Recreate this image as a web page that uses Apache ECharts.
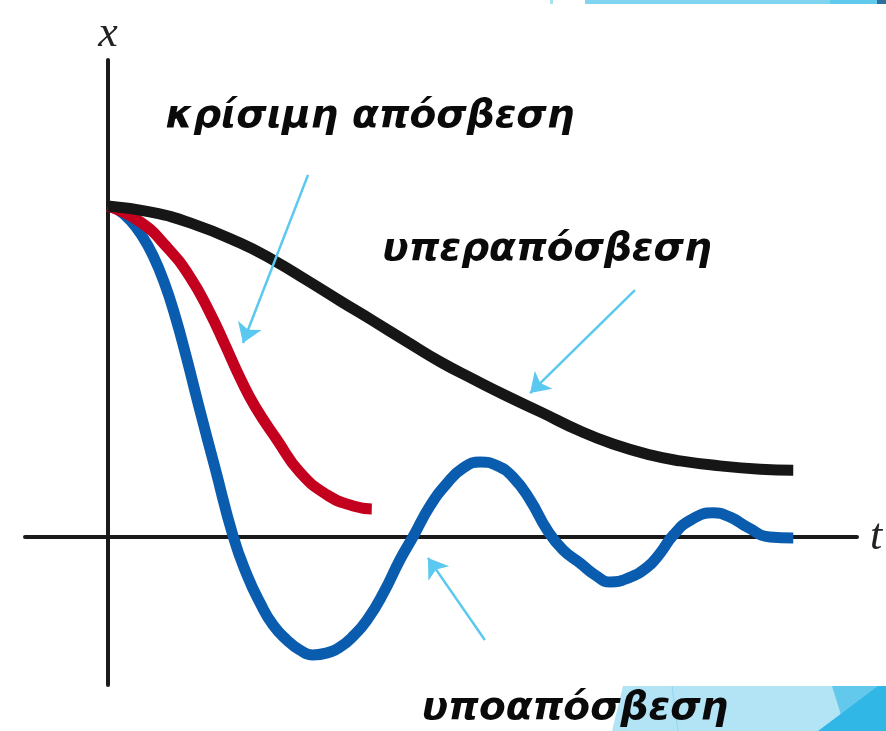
<!DOCTYPE html>
<html>
<head>
<meta charset="utf-8">
<script src="https://cdn.jsdelivr.net/npm/echarts@6/dist/echarts.min.js"></script>
<style>
  html, body { margin: 0; padding: 0; background: #fff; }
  #chart { width: 886px; height: 731px; }
</style>
</head>
<body>
<div id="chart"></div>
<script>
// readings, in chart units (t across, x up; start of curves is x = 1)
const overdampedT = [0, 0.61, 1.2, 1.93, 2.41, 2.9, 3.39, 3.87, 4.37, 4.85, 5.33, 5.82, 6.31, 6.89, 7.37, 7.91, 8.35, 8.93, 9.52, 10]
const overdampedX = [1, 0.982, 0.949, 0.888, 0.837, 0.776, 0.713, 0.653, 0.589, 0.529, 0.477, 0.426, 0.378, 0.32, 0.281, 0.248, 0.23, 0.215, 0.205, 0.202]

const criticalT = [0, 0.47, 0.86, 1.2, 1.49, 1.71, 1.93, 2.15, 2.47, 2.8, 3.2, 3.58, 3.85]
const criticalX = [1, 0.952, 0.876, 0.785, 0.677, 0.58, 0.48, 0.393, 0.293, 0.196, 0.127, 0.094, 0.085]

const underdampedT = [0, 0.15, 0.32, 0.5, 0.66, 0.82, 0.98, 1.14, 1.34, 1.56, 1.83, 2.03, 2.22, 2.41, 2.61, 2.8, 2.99, 3.2, 3.39, 3.58, 3.78, 4.02, 4.26, 4.45, 4.7, 4.95, 5.18, 5.43, 5.68, 5.91, 6.16, 6.41, 6.64, 6.89, 7.11, 7.33, 7.59, 7.87, 8.06, 8.25, 8.5, 8.83, 9.08, 9.33, 9.66, 10]
const underdampedX = [1, 0.988, 0.958, 0.909, 0.849, 0.77, 0.668, 0.547, 0.384, 0.211, 0, -0.115, -0.199, -0.266, -0.311, -0.341, -0.356, -0.35, -0.332, -0.299, -0.251, -0.169, -0.069, 0, 0.094, 0.163, 0.208, 0.227, 0.215, 0.181, 0.112, 0.021, -0.039, -0.079, -0.115, -0.136, -0.124, -0.091, -0.048, 0.006, 0.051, 0.073, 0.06, 0.03, 0, -0.003]

// annotation arrows: [fromT, fromX, toT, toX]
const arrowCritical = [2.92, 1.094, 1.97, 0.586]
const arrowOver = [7.69, 0.746, 6.16, 0.435]
const arrowUnder = [5.5, -0.311, 4.67, -0.063]

const labelCritical = 'κρίσιμη απόσβεση'
const labelOver = 'υπεραπόσβεση'
const labelUnder = 'υποαπόσβεση'

const zip = (ts, xs) => ts.map((t, i) => [t, xs[i]])
const arrow = (a) => ({ coords: [[a[0], a[1]], [a[2], a[3]]] })

const chart = echarts.init(document.getElementById('chart'), null, { renderer: 'canvas' })

const axisFont = {
  color: '#222',
  fontFamily: 'Liberation Serif',
  fontStyle: 'italic',
  fontSize: 44,
}

const labelStyle = {
  fill: '#0a0a0a',
  fontFamily: 'DejaVu Sans',
  fontWeight: 'bold',
  fontStyle: 'italic',
  fontSize: 39,
  textAlign: 'center',
  textVerticalAlign: 'middle',
}

chart.setOption({
  animation: false,
  backgroundColor: '#fff',
  grid: { left: 25, right: 29, top: 60, bottom: 46 },
  xAxis: {
    type: 'value',
    min: -1.21,
    max: 10.93,
    axisLine: { onZero: true, lineStyle: { color: '#1a1a1a', width: 4 } },
    axisTick: { show: false },
    axisLabel: { show: false },
    splitLine: { show: false },
    name: 't',
    nameLocation: 'end',
    nameGap: 13,
    nameTextStyle: axisFont,
  },
  yAxis: {
    type: 'value',
    min: -0.447,
    max: 1.441,
    axisLine: { onZero: true, lineStyle: { color: '#1a1a1a', width: 4 } },
    axisTick: { show: false },
    axisLabel: { show: false },
    splitLine: { show: false },
    name: 'x',
    nameLocation: 'end',
    nameGap: 4,
    nameTextStyle: axisFont,
  },
  series: [
    {
      name: 'underdamped',
      type: 'line',
      data: zip(underdampedT, underdampedX),
      smooth: 0.5,
      showSymbol: false,
      lineStyle: { color: '#0a5cae', width: 11, cap: 'butt' },
      z: 2,
    },
    {
      name: 'critical',
      type: 'line',
      data: zip(criticalT, criticalX),
      smooth: 0.5,
      showSymbol: false,
      lineStyle: { color: '#c4001f', width: 11, cap: 'butt' },
      z: 3,
    },
    {
      name: 'overdamped',
      type: 'line',
      data: zip(overdampedT, overdampedX),
      smooth: 0.5,
      showSymbol: false,
      lineStyle: { color: '#161616', width: 11, cap: 'butt' },
      z: 4,
    },
    {
      type: 'lines',
      coordinateSystem: 'cartesian2d',
      symbol: ['none', 'arrow'],
      symbolSize: 19,
      lineStyle: { color: '#5bc8ef', width: 2.5, opacity: 1, curveness: 0 },
      data: [arrow(arrowCritical), arrow(arrowOver), arrow(arrowUnder)],
      z: 5,
    },
  ],
  graphic: [
    // slide decoration, top edge
    { type: 'rect', shape: { x: 585, y: 0, width: 301, height: 4 }, style: { fill: '#80d4ef' }, silent: true },
    { type: 'rect', shape: { x: 830, y: 0, width: 47, height: 4 }, style: { fill: '#5fcaeb' }, silent: true },
    { type: 'rect', shape: { x: 877, y: 0, width: 9, height: 4 }, style: { fill: '#2e6f9e' }, silent: true },
    { type: 'rect', shape: { x: 550, y: 0, width: 3, height: 4 }, style: { fill: '#a8e0f3' }, silent: true },
    // slide decoration, bottom right
    { type: 'polygon', shape: { points: [[623, 686], [886, 686], [886, 731], [612, 731]] }, style: { fill: '#b3e4f6' }, silent: true },
    { type: 'line', shape: { x1: 672, y1: 686, x2: 678, y2: 731 }, style: { stroke: '#8fd7f2', lineWidth: 1 }, silent: true },
    { type: 'polygon', shape: { points: [[832, 686], [886, 686], [886, 731], [846, 731]] }, style: { fill: '#62c8ec' }, silent: true },
    { type: 'polygon', shape: { points: [[818, 731], [842, 713], [878, 686], [886, 686], [886, 731]] }, style: { fill: '#30b7e5' }, silent: true },
    // labels
    { type: 'text', x: 370, y: 117, style: Object.assign({ text: labelCritical }, labelStyle), z: 10 },
    { type: 'text', x: 547, y: 250, style: Object.assign({ text: labelOver }, labelStyle), z: 10 },
    { type: 'text', x: 575, y: 709, style: Object.assign({ text: labelUnder }, labelStyle), z: 10 },
  ],
})
</script>
</body>
</html>
